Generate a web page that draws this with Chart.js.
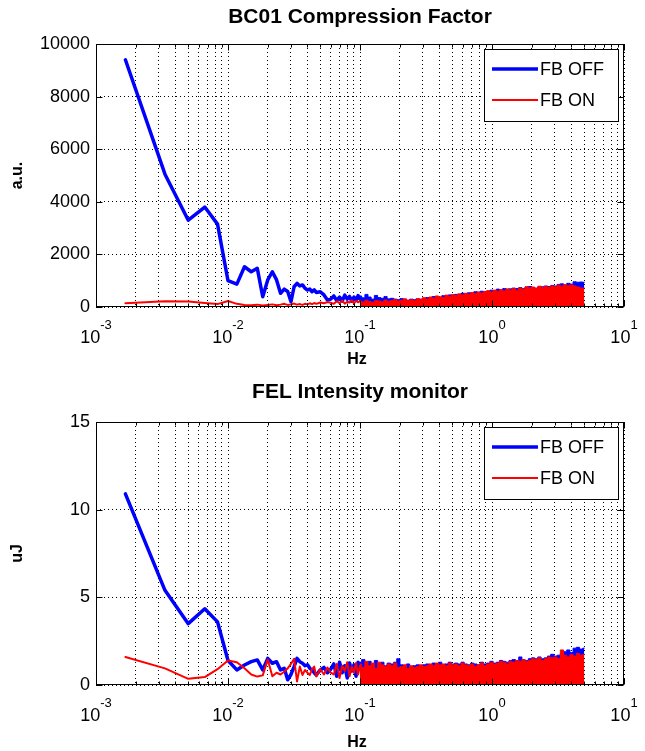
<!DOCTYPE html>
<html lang="en">
<head>
<meta charset="UTF-8">
<title>BC01 Compression Factor / FEL Intensity monitor</title>
<script src="https://cdn.jsdelivr.net/npm/chart.js"></script>
<style>
  html, body { margin: 0; padding: 0; background: #fff; }
  .panel { position: relative; width: 645px; }
</style>
</head>
<body>
<div class="panel" style="height:376px"><canvas id="chartTop"></canvas></div>
<div class="panel" style="height:375px"><canvas id="chartBottom"></canvas></div>
<script>
// frequency axis (Hz): decades for labels, minor multipliers for the log grid
const xDecades = [-3, -2, -1, 0, 1];
const xMinor = [2, 3, 4, 5, 6, 7, 8, 9];

// low-frequency bins (resolved individually)
const lowFreq = [0.00167, 0.00333, 0.005, 0.00667, 0.00833, 0.01, 0.01167, 0.01333, 0.015, 0.01667,
  0.01833, 0.02, 0.02167, 0.02333, 0.025, 0.02667, 0.02833, 0.03, 0.03167, 0.03333,
  0.035, 0.03667, 0.03833, 0.04, 0.04167, 0.04333, 0.045, 0.04667, 0.05, 0.05333, 0.05667, 0.06,
  0.06333, 0.06667, 0.07, 0.07333, 0.07667, 0.08, 0.08333, 0.08667, 0.09, 0.09333, 0.09667, 0.1];
// dense part of the spectrum, read as the outline of the noise band
const envFreq = [0.100, 0.106, 0.112, 0.118, 0.125, 0.132, 0.140, 0.148, 0.156, 0.165,
  0.175, 0.185, 0.195, 0.207, 0.219, 0.231, 0.245, 0.259, 0.274, 0.289,
  0.306, 0.324, 0.342, 0.362, 0.383, 0.405, 0.428, 0.453, 0.479, 0.506,
  0.535, 0.566, 0.599, 0.633, 0.670, 0.708, 0.749, 0.792, 0.837, 0.886,
  0.937, 0.990, 1.05, 1.11, 1.17, 1.24, 1.31, 1.38, 1.46, 1.55,
  1.64, 1.73, 1.83, 1.94, 2.05, 2.16, 2.29, 2.42, 2.56, 2.71,
  2.86, 3.03, 3.20, 3.39, 3.58, 3.79, 4.00, 4.23, 4.48, 4.73, 5.00];

// BC01 Compression Factor (a.u.)
const bcTicks = [0, 2000, 4000, 6000, 8000, 10000];
const bcOffLow = [9400, 5050, 3300, 3800, 3150, 1000, 870, 1530, 1340, 1470,
  390, 1030, 1340, 1030, 520, 680, 590, 200, 770, 900,
  800, 840, 710, 650, 680, 580, 650, 550, 580, 460, 270, 300,
  420, 250, 380, 230, 450, 300, 400, 220, 380, 260, 430, 300];
const bcOnLow = [140, 220, 210, 150, 110, 230, 120, 80, 70, 90,
  60, 80, 100, 70, 90, 120, 80, 100, 130, 90,
  110, 80, 120, 100, 140, 110, 150, 120, 170, 140, 190, 160,
  120, 220, 150, 240, 130, 200, 170, 250, 140, 230, 180, 220];
const bcOffEnv = [420, 350, 480, 380, 300, 440, 360, 330, 400, 310,
  330, 300, 280, 320, 290, 260, 300, 280, 310, 300,
  330, 360, 350, 400, 380, 360, 430, 420, 460, 450,
  480, 470, 520, 500, 540, 520, 580, 560, 600, 580,
  600, 640, 620, 680, 650, 700, 660, 690, 720, 700,
  740, 700, 760, 780, 740, 720, 760, 770, 800, 780,
  820, 800, 860, 880, 830, 900, 870, 960, 940, 950, 940];
const bcOnEnv = [230, 190, 260, 210, 180, 250, 230, 200, 270, 220,
  250, 290, 230, 260, 310, 250, 280, 240, 320, 290,
  350, 300, 380, 340, 420, 390, 360, 450, 410, 470,
  440, 500, 460, 520, 490, 550, 510, 570, 530, 590,
  620, 570, 640, 600, 660, 610, 690, 650, 700, 640,
  720, 680, 770, 730, 760, 700, 790, 740, 780, 750,
  800, 770, 830, 790, 850, 810, 840, 800, 760, 720, 720];

// FEL Intensity monitor (uJ)
const felTicks = [0, 5, 10, 15];
const felOffLow = [10.9, 5.4, 3.5, 4.35, 3.6, 1.4, 0.86, 1.14, 1.33, 1.43,
  0.86, 1.52, 1.24, 1.33, 0.86, 0.95, 0.3, 0.6, 1.05, 1.52,
  1.33, 1.24, 1.1, 1.15, 0.95, 0.86, 0.7, 0.57, 0.86, 1.0, 0.7, 0.9,
  1.2, 0.5, 1.3, 0.7, 1.1, 0.4, 1.25, 0.8, 1.15, 0.5, 1.3, 0.9];
const felOnLow = [1.6, 0.95, 0.35, 0.45, 0.9, 1.4, 1.3, 0.95, 0.6, 0.48,
  0.55, 1.45, 0.5, 0.7, 0.6, 0.76, 0.95, 1.2, 1.5, 0.2,
  1.05, 0.57, 0.86, 0.7, 0.57, 0.9, 1.05, 0.48, 0.9, 0.6, 1.0, 0.7,
  0.6, 1.2, 0.4, 1.1, 0.8, 1.3, 0.5, 1.05, 0.7, 1.25, 0.6, 1.1];
const felOffEnv = [1.3, 1.45, 1.2, 1.35, 1.15, 1.4, 1.2, 1.3, 1.1, 1.25,
  1.2, 1.3, 1.5, 1.15, 1.1, 1.2, 1.05, 1.1, 1.15, 1.1,
  1.15, 1.2, 1.15, 1.25, 1.2, 1.3, 1.15, 1.2, 1.3, 1.2,
  1.25, 1.2, 1.3, 1.2, 1.15, 1.25, 1.2, 1.15, 1.3, 1.2,
  1.25, 1.35, 1.25, 1.3, 1.4, 1.35, 1.3, 1.4, 1.45, 1.4,
  1.6, 1.45, 1.4, 1.5, 1.55, 1.5, 1.6, 1.5, 1.55, 1.65,
  1.75, 1.65, 1.7, 1.8, 1.9, 2.0, 1.85, 2.1, 2.15, 2.05, 2.1];
const felOnEnv = [1.2, 1.0, 1.35, 1.1, 1.25, 0.95, 1.3, 1.15, 1.05, 1.2,
  1.1, 1.25, 1.0, 1.05, 1.15, 0.95, 1.1, 1.0, 1.05, 1.15,
  1.05, 1.1, 1.2, 1.1, 1.25, 1.15, 1.2, 1.1, 1.25, 1.15,
  1.2, 1.1, 1.25, 1.15, 1.1, 1.2, 1.05, 1.15, 1.25, 1.1,
  1.2, 1.3, 1.2, 1.25, 1.35, 1.3, 1.2, 1.35, 1.3, 1.4,
  1.35, 1.45, 1.35, 1.4, 1.5, 1.45, 1.55, 1.4, 1.5, 1.6,
  1.55, 1.6, 1.5, 2.0, 1.7, 1.6, 1.75, 1.65, 1.8, 1.7, 1.75];

const BLUE = '#0000ff';
const RED = '#ff0000';
const FONT = '"Liberation Sans", Arial, sans-serif';

function pts(xs, ys) {
  return xs.map((x, i) => ({ x: x, y: ys[i] }));
}

const xTickValues = [];
xDecades.forEach(d => {
  xTickValues.push(Math.pow(10, d));
  if (d < xDecades[xDecades.length - 1]) xMinor.forEach(m => xTickValues.push(m * Math.pow(10, d)));
});

// MATLAB style frame: box, inward ticks, 10^n labels, titles, legend
const matlabFrame = {
  id: 'matlabFrame',
  afterDraw(chart, args, opts) {
    const { ctx, chartArea: a, scales: { x, y } } = chart;
    ctx.save();
    ctx.strokeStyle = '#000';
    ctx.fillStyle = '#000';
    ctx.lineWidth = 1;

    // box
    const L = Math.round(a.left) + 0.5, R = Math.round(a.right) - 0.5;
    const T = Math.round(a.top) + 0.5, B = Math.round(a.bottom) - 0.5;
    ctx.strokeRect(L, T, R - L, B - T);

    // x ticks
    ctx.beginPath();
    x.ticks.forEach(t => {
      const px = Math.round(x.getPixelForValue(t.value)) + 0.5;
      const lg = Math.log10(t.value);
      const len = Math.abs(lg - Math.round(lg)) < 1e-9 ? 6 : 3;
      ctx.moveTo(px, B); ctx.lineTo(px, B - len);
      ctx.moveTo(px, T); ctx.lineTo(px, T + len);
    });
    // y ticks
    y.ticks.forEach(t => {
      const py = Math.round(y.getPixelForValue(t.value)) + 0.5;
      ctx.moveTo(L, py); ctx.lineTo(L + 6, py);
      ctx.moveTo(R, py); ctx.lineTo(R - 6, py);
    });
    ctx.stroke();

    // 10^n labels
    ctx.textBaseline = 'alphabetic';
    ctx.textAlign = 'left';
    xDecades.forEach(d => {
      const px = x.getPixelForValue(Math.pow(10, d));
      ctx.font = '18px ' + FONT;
      const w1 = ctx.measureText('10').width;
      ctx.font = '13px ' + FONT;
      const e = String(d);
      const w2 = ctx.measureText(e).width;
      const x0 = px - (w1 + w2) / 2;
      ctx.font = '18px ' + FONT;
      ctx.fillText('10', x0, a.bottom + 36);
      ctx.font = '13px ' + FONT;
      ctx.fillText(e, x0 + w1, a.bottom + 22);
    });

    ctx.font = '18px ' + FONT;
    ctx.textAlign = 'right';
    ctx.textBaseline = 'middle';
    y.ticks.forEach(t => {
      ctx.fillText(String(t.value), a.left - 6, y.getPixelForValue(t.value));
    });

    // title and axis labels
    ctx.textAlign = 'center';
    ctx.font = 'bold 21px ' + FONT;
    ctx.fillText(opts.title, (a.left + a.right) / 2, a.top - opts.titleGap);
    ctx.font = 'bold 16px ' + FONT;
    ctx.textBaseline = 'alphabetic';
    ctx.fillText('Hz', (a.left + a.right) / 2 - 3, a.bottom + opts.hzGap);
    ctx.save();
    ctx.translate(18, (a.top + a.bottom) / 2);
    ctx.rotate(-Math.PI / 2);
    ctx.textBaseline = 'middle';
    ctx.fillText(opts.ylabel, 0, 0);
    ctx.restore();

    // legend
    const lx = 484, ly = a.top + 5, lw = 134, lh = 72;
    ctx.fillStyle = '#fff';
    ctx.fillRect(lx, ly, lw, lh);
    ctx.strokeStyle = '#000';
    ctx.strokeRect(lx + 0.5, ly + 0.5, lw, lh);
    const items = [
      { text: 'FB OFF', color: BLUE, width: 3.5, y: ly + 20 },
      { text: 'FB ON', color: RED, width: 2, y: ly + 51 }
    ];
    ctx.font = '18px ' + FONT;
    ctx.textAlign = 'left';
    ctx.textBaseline = 'middle';
    items.forEach(it => {
      ctx.strokeStyle = it.color;
      ctx.lineWidth = it.width;
      ctx.beginPath();
      ctx.moveTo(lx + 8, it.y);
      ctx.lineTo(lx + 54, it.y);
      ctx.stroke();
      ctx.fillStyle = '#000';
      ctx.fillText(it.text, lx + 56, it.y + 1);
    });
    ctx.restore();
  }
};

function makeChart(id, cfg) {
  const ctx = document.getElementById(id).getContext('2d');
  return new Chart(ctx, {
    type: 'line',
    data: {
      datasets: [
        { label: 'FB ON', data: pts(lowFreq, cfg.onLow), borderColor: RED, borderWidth: 2, order: 0 },
        { label: 'FB ON band', data: pts(envFreq, cfg.onEnv), borderColor: RED, backgroundColor: RED,
          borderWidth: 1, fill: 'origin', stepped: 'middle', order: 0 },
        { label: 'FB OFF', data: pts(lowFreq, cfg.offLow), borderColor: BLUE, borderWidth: 3.5, order: 1 },
        { label: 'FB OFF band', data: pts(envFreq, cfg.offEnv), borderColor: BLUE, backgroundColor: BLUE,
          borderWidth: 1, fill: 'origin', stepped: 'middle', order: 1 }
      ]
    },
    options: {
      responsive: true,
      maintainAspectRatio: false,
      animation: false,
      devicePixelRatio: 1,
      layout: { padding: cfg.padding },
      elements: {
        point: { radius: 0 },
        line: { tension: 0, borderJoinStyle: 'round', borderCapStyle: 'round' }
      },
      plugins: {
        legend: { display: false },
        tooltip: { enabled: false },
        matlabFrame: { title: cfg.title, ylabel: cfg.ylabel, titleGap: cfg.titleGap, hzGap: cfg.hzGap }
      },
      scales: {
        x: {
          type: 'logarithmic',
          min: 0.001,
          max: 10,
          afterBuildTicks: s => { s.ticks = xTickValues.map(v => ({ value: v })); },
          ticks: { display: false },
          grid: { color: '#000', lineWidth: 1, drawTicks: false },
          border: { display: false, dash: [1, 3] }
        },
        y: {
          min: 0,
          max: cfg.yTicks[cfg.yTicks.length - 1],
          afterBuildTicks: s => { s.ticks = cfg.yTicks.map(v => ({ value: v })); },
          ticks: { display: false },
          grid: { color: '#000', lineWidth: 1, drawTicks: false },
          border: { display: false, dash: [1, 3] }
        }
      }
    },
    plugins: [matlabFrame]
  });
}

makeChart('chartTop', {
  title: 'BC01 Compression Factor', ylabel: 'a.u.', titleGap: 27, hzGap: 57,
  yTicks: bcTicks, offLow: bcOffLow, onLow: bcOnLow, offEnv: bcOffEnv, onEnv: bcOnEnv,
  padding: { left: 96, top: 44, right: 21, bottom: 69 }
});
makeChart('chartBottom', {
  title: 'FEL Intensity monitor', ylabel: 'uJ', titleGap: 30, hzGap: 62,
  yTicks: felTicks, offLow: felOffLow, onLow: felOnLow, offEnv: felOffEnv, onEnv: felOnEnv,
  padding: { left: 96, top: 46, right: 21, bottom: 66 }
});
</script>
</body>
</html>
